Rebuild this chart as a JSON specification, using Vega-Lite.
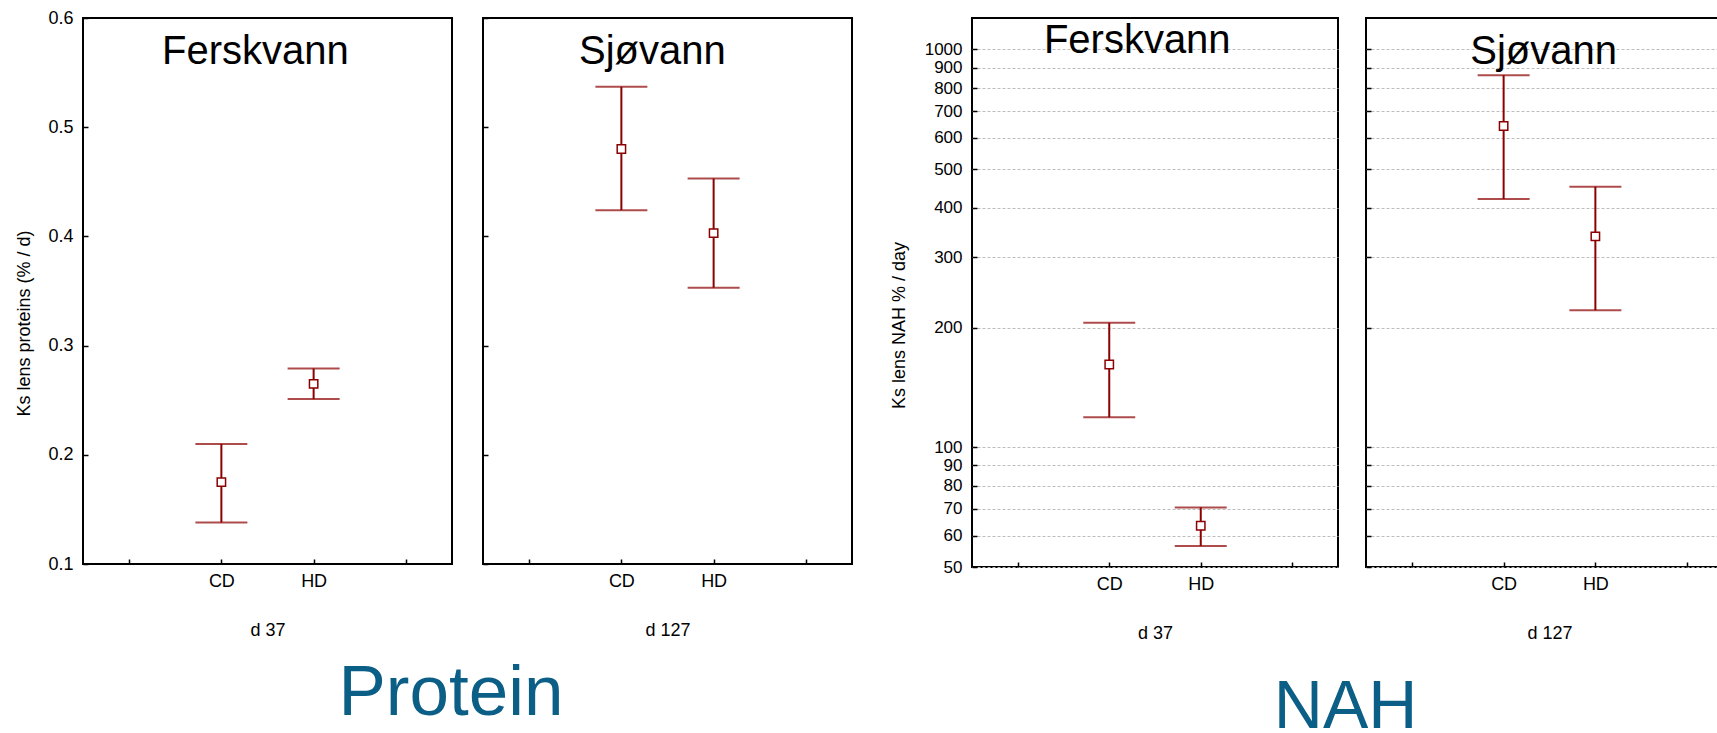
{
  "$schema": "https://vega.github.io/schema/vega-lite/v6.json",
  "padding": {"left": 14, "top": 8, "right": 0, "bottom": 0},
  "background": "white",
  "datasets": {
    "protein": [
      {"site": "Ferskvann", "diet": "CD", "mean": 0.175, "lower": 0.138, "upper": 0.210},
      {"site": "Ferskvann", "diet": "HD", "mean": 0.265, "lower": 0.251, "upper": 0.279},
      {"site": "Sjøvann", "diet": "CD", "mean": 0.480, "lower": 0.424, "upper": 0.537},
      {"site": "Sjøvann", "diet": "HD", "mean": 0.403, "lower": 0.353, "upper": 0.453}
    ],
    "nah": [
      {"site": "Ferskvann", "diet": "CD", "mean": 161.5, "lower": 119, "upper": 205.5},
      {"site": "Ferskvann", "diet": "HD", "mean": 63.5, "lower": 56.5, "upper": 70.6},
      {"site": "Sjøvann", "diet": "CD", "mean": 642, "lower": 421, "upper": 862},
      {"site": "Sjøvann", "diet": "HD", "mean": 339, "lower": 221, "upper": 452}
    ]
  },
  "spacing": 36,
  "hconcat": [
    {
      "title": {"text": "Protein", "orient": "bottom", "anchor": "middle", "fontSize": 71, "font": "Liberation Sans", "fontWeight": "normal", "color": "#0b5e85", "dx": 17, "offset": 19},
      "spacing": 28,
      "hconcat": [
        {
          "width": 369, "height": 546,
          "data": {"name": "protein"},
          "transform": [{"filter": "datum.site == 'Ferskvann'"}],
          "encoding": {
            "x": {"field": "diet", "type": "nominal", "scale": {"type": "point", "domain": ["L", "CD", "HD", "R"], "padding": 0.5},
                  "axis": {"title": "d 37", "labelAngle": 0, "labelExpr": "datum.value == 'CD' || datum.value == 'HD' ? datum.value : ''", "labelPadding": 13, "titlePadding": 31}}
          },
          "layer": [
            {"mark": {"type": "rule", "color": "#8b0000", "strokeWidth": 2},
             "encoding": {"y": {"field": "lower", "type": "quantitative", "scale": {"domain": [0.1, 0.6], "nice": false, "zero": false},
                                "axis": {"title": "Ks lens proteins (% / d)", "values": [0.1, 0.2, 0.3, 0.4, 0.5, 0.6], "format": ".1f", "labelPadding": 15, "titlePadding": 14, "titleY": 305}},
                          "y2": {"field": "upper"}}},
            {"mark": {"type": "tick", "color": "#8b0000", "thickness": 2, "size": 52},
             "encoding": {"y": {"field": "lower", "type": "quantitative", "axis": {"title": "Ks lens proteins (% / d)", "values": [0.1, 0.2, 0.3, 0.4, 0.5, 0.6], "format": ".1f", "labelPadding": 15, "titlePadding": 14, "titleY": 305}}}},
            {"mark": {"type": "tick", "color": "#8b0000", "thickness": 2, "size": 52},
             "encoding": {"y": {"field": "upper", "type": "quantitative", "axis": {"title": "Ks lens proteins (% / d)", "values": [0.1, 0.2, 0.3, 0.4, 0.5, 0.6], "format": ".1f", "labelPadding": 15, "titlePadding": 14, "titleY": 305}}}},
            {"mark": {"type": "point", "shape": "square", "filled": true, "fill": "white", "stroke": "#8b0000", "strokeWidth": 1.5, "size": 70, "opacity": 1},
             "encoding": {"y": {"field": "mean", "type": "quantitative", "axis": {"title": "Ks lens proteins (% / d)", "values": [0.1, 0.2, 0.3, 0.4, 0.5, 0.6], "format": ".1f", "labelPadding": 15, "titlePadding": 14, "titleY": 305}}}},
            {"transform": [{"filter": "datum.diet == 'CD'"}],
             "mark": {"type": "text", "fontSize": 40, "font": "Liberation Sans", "color": "black", "align": "center", "baseline": "alphabetic", "dx": 34, "dy": 46},
             "encoding": {"y": {"datum": 0.6, "type": "quantitative", "axis": {"title": "Ks lens proteins (% / d)", "values": [0.1, 0.2, 0.3, 0.4, 0.5, 0.6], "format": ".1f", "labelPadding": 15, "titlePadding": 14, "titleY": 305}},
                          "text": {"field": "site"}}}
          ]
        },
        {
          "width": 369, "height": 546,
          "data": {"name": "protein"},
          "transform": [{"filter": "datum.site == 'Sjøvann'"}],
          "encoding": {
            "x": {"field": "diet", "type": "nominal", "scale": {"type": "point", "domain": ["L", "CD", "HD", "R"], "padding": 0.5},
                  "axis": {"title": "d 127", "labelAngle": 0, "labelExpr": "datum.value == 'CD' || datum.value == 'HD' ? datum.value : ''", "labelPadding": 13, "titlePadding": 31}}
          },
          "layer": [
            {"mark": {"type": "rule", "color": "#8b0000", "strokeWidth": 2},
             "encoding": {"y": {"field": "lower", "type": "quantitative", "scale": {"domain": [0.1, 0.6], "nice": false, "zero": false},
                                "axis": {"title": null, "labels": false, "values": [0.1, 0.2, 0.3, 0.4, 0.5, 0.6]}},
                          "y2": {"field": "upper"}}},
            {"mark": {"type": "tick", "color": "#8b0000", "thickness": 2, "size": 52},
             "encoding": {"y": {"field": "lower", "type": "quantitative", "axis": {"title": null, "labels": false, "values": [0.1, 0.2, 0.3, 0.4, 0.5, 0.6]}}}},
            {"mark": {"type": "tick", "color": "#8b0000", "thickness": 2, "size": 52},
             "encoding": {"y": {"field": "upper", "type": "quantitative", "axis": {"title": null, "labels": false, "values": [0.1, 0.2, 0.3, 0.4, 0.5, 0.6]}}}},
            {"mark": {"type": "point", "shape": "square", "filled": true, "fill": "white", "stroke": "#8b0000", "strokeWidth": 1.5, "size": 70, "opacity": 1},
             "encoding": {"y": {"field": "mean", "type": "quantitative", "axis": {"title": null, "labels": false, "values": [0.1, 0.2, 0.3, 0.4, 0.5, 0.6]}}}},
            {"transform": [{"filter": "datum.diet == 'CD'"}],
             "mark": {"type": "text", "fontSize": 40, "font": "Liberation Sans", "color": "black", "align": "center", "baseline": "alphabetic", "dx": 31, "dy": 46},
             "encoding": {"y": {"datum": 0.6, "type": "quantitative", "axis": {"title": null, "labels": false, "values": [0.1, 0.2, 0.3, 0.4, 0.5, 0.6]}},
                          "text": {"field": "site"}}}
          ]
        }
      ]
    },
    {
      "title": {"text": "NAH", "orient": "bottom", "anchor": "middle", "fontSize": 68, "font": "Liberation Sans", "fontWeight": "normal", "color": "#0b5e85", "dx": 34, "offset": 31},
      "spacing": 25,
      "hconcat": [
        {
          "width": 366, "height": 549,
          "data": {"name": "nah"},
          "transform": [{"filter": "datum.site == 'Ferskvann'"}],
          "encoding": {
            "x": {"field": "diet", "type": "nominal", "scale": {"type": "point", "domain": ["L", "CD", "HD", "R"], "padding": 0.5},
                  "axis": {"title": "d 37", "labelAngle": 0, "labelExpr": "datum.value == 'CD' || datum.value == 'HD' ? datum.value : ''", "labelPadding": 13, "titlePadding": 31}}
          },
          "layer": [
            {"mark": {"type": "rule", "color": "#8b0000", "strokeWidth": 2},
             "encoding": {"y": {"field": "lower", "type": "quantitative", "scale": {"type": "log", "domain": [50, 1200], "nice": false, "zero": false},
                                "axis": {"title": "Ks lens NAH % / day", "values": [50, 60, 70, 80, 90, 100, 200, 300, 400, 500, 600, 700, 800, 900, 1000], "format": "d", "labelFontSize": 17, "labelPadding": 15, "titlePadding": 16, "titleY": 307, "grid": true, "gridColor": "#bdbdbd", "gridDash": [3, 2], "gridWidth": 1}},
                          "y2": {"field": "upper"}}},
            {"mark": {"type": "tick", "color": "#8b0000", "thickness": 2, "size": 52},
             "encoding": {"y": {"field": "lower", "type": "quantitative", "axis": {"title": "Ks lens NAH % / day", "values": [50, 60, 70, 80, 90, 100, 200, 300, 400, 500, 600, 700, 800, 900, 1000], "format": "d", "labelFontSize": 17, "labelPadding": 15, "titlePadding": 16, "titleY": 307, "grid": true, "gridColor": "#bdbdbd", "gridDash": [3, 2], "gridWidth": 1}}}},
            {"mark": {"type": "tick", "color": "#8b0000", "thickness": 2, "size": 52},
             "encoding": {"y": {"field": "upper", "type": "quantitative", "axis": {"title": "Ks lens NAH % / day", "values": [50, 60, 70, 80, 90, 100, 200, 300, 400, 500, 600, 700, 800, 900, 1000], "format": "d", "labelFontSize": 17, "labelPadding": 15, "titlePadding": 16, "titleY": 307, "grid": true, "gridColor": "#bdbdbd", "gridDash": [3, 2], "gridWidth": 1}}}},
            {"mark": {"type": "point", "shape": "square", "filled": true, "fill": "white", "stroke": "#8b0000", "strokeWidth": 1.5, "size": 70, "opacity": 1},
             "encoding": {"y": {"field": "mean", "type": "quantitative", "axis": {"title": "Ks lens NAH % / day", "values": [50, 60, 70, 80, 90, 100, 200, 300, 400, 500, 600, 700, 800, 900, 1000], "format": "d", "labelFontSize": 17, "labelPadding": 15, "titlePadding": 16, "titleY": 307, "grid": true, "gridColor": "#bdbdbd", "gridDash": [3, 2], "gridWidth": 1}}}},
            {"transform": [{"filter": "datum.diet == 'CD'"}],
             "mark": {"type": "text", "fontSize": 40, "font": "Liberation Sans", "color": "black", "align": "center", "baseline": "alphabetic", "dx": 28, "dy": 35},
             "encoding": {"y": {"datum": 1200, "type": "quantitative", "axis": {"title": "Ks lens NAH % / day", "values": [50, 60, 70, 80, 90, 100, 200, 300, 400, 500, 600, 700, 800, 900, 1000], "format": "d", "labelFontSize": 17, "labelPadding": 15, "titlePadding": 16, "titleY": 307, "grid": true, "gridColor": "#bdbdbd", "gridDash": [3, 2], "gridWidth": 1}},
                          "text": {"field": "site"}}}
          ]
        },
        {
          "width": 367, "height": 549,
          "data": {"name": "nah"},
          "transform": [{"filter": "datum.site == 'Sjøvann'"}],
          "encoding": {
            "x": {"field": "diet", "type": "nominal", "scale": {"type": "point", "domain": ["L", "CD", "HD", "R"], "padding": 0.5},
                  "axis": {"title": "d 127", "labelAngle": 0, "labelExpr": "datum.value == 'CD' || datum.value == 'HD' ? datum.value : ''", "labelPadding": 13, "titlePadding": 31}}
          },
          "layer": [
            {"mark": {"type": "rule", "color": "#8b0000", "strokeWidth": 2},
             "encoding": {"y": {"field": "lower", "type": "quantitative", "scale": {"type": "log", "domain": [50, 1200], "nice": false, "zero": false},
                                "axis": {"title": null, "labels": false, "values": [50, 60, 70, 80, 90, 100, 200, 300, 400, 500, 600, 700, 800, 900, 1000], "grid": true, "gridColor": "#bdbdbd", "gridDash": [3, 2], "gridWidth": 1}},
                          "y2": {"field": "upper"}}},
            {"mark": {"type": "tick", "color": "#8b0000", "thickness": 2, "size": 52},
             "encoding": {"y": {"field": "lower", "type": "quantitative", "axis": {"title": null, "labels": false, "values": [50, 60, 70, 80, 90, 100, 200, 300, 400, 500, 600, 700, 800, 900, 1000], "grid": true, "gridColor": "#bdbdbd", "gridDash": [3, 2], "gridWidth": 1}}}},
            {"mark": {"type": "tick", "color": "#8b0000", "thickness": 2, "size": 52},
             "encoding": {"y": {"field": "upper", "type": "quantitative", "axis": {"title": null, "labels": false, "values": [50, 60, 70, 80, 90, 100, 200, 300, 400, 500, 600, 700, 800, 900, 1000], "grid": true, "gridColor": "#bdbdbd", "gridDash": [3, 2], "gridWidth": 1}}}},
            {"mark": {"type": "point", "shape": "square", "filled": true, "fill": "white", "stroke": "#8b0000", "strokeWidth": 1.5, "size": 70, "opacity": 1},
             "encoding": {"y": {"field": "mean", "type": "quantitative", "axis": {"title": null, "labels": false, "values": [50, 60, 70, 80, 90, 100, 200, 300, 400, 500, 600, 700, 800, 900, 1000], "grid": true, "gridColor": "#bdbdbd", "gridDash": [3, 2], "gridWidth": 1}}}},
            {"transform": [{"filter": "datum.diet == 'CD'"}],
             "mark": {"type": "text", "fontSize": 40, "font": "Liberation Sans", "color": "black", "align": "center", "baseline": "alphabetic", "dx": 40, "dy": 46},
             "encoding": {"y": {"datum": 1200, "type": "quantitative", "axis": {"title": null, "labels": false, "values": [50, 60, 70, 80, 90, 100, 200, 300, 400, 500, 600, 700, 800, 900, 1000], "grid": true, "gridColor": "#bdbdbd", "gridDash": [3, 2], "gridWidth": 1}},
                          "text": {"field": "site"}}}
          ]
        }
      ]
    }
  ],
  "config": {
    "font": "Liberation Sans",
    "view": {"stroke": "black", "strokeWidth": 2},
    "axis": {"domain": false, "grid": false, "tickColor": "black", "tickWidth": 1.5, "tickSize": -5, "labelFontSize": 18, "labelColor": "black", "labelFont": "Liberation Sans", "titleFontSize": 18, "titleFontWeight": "normal", "titleColor": "black", "titleFont": "Liberation Sans"}
  }
}
